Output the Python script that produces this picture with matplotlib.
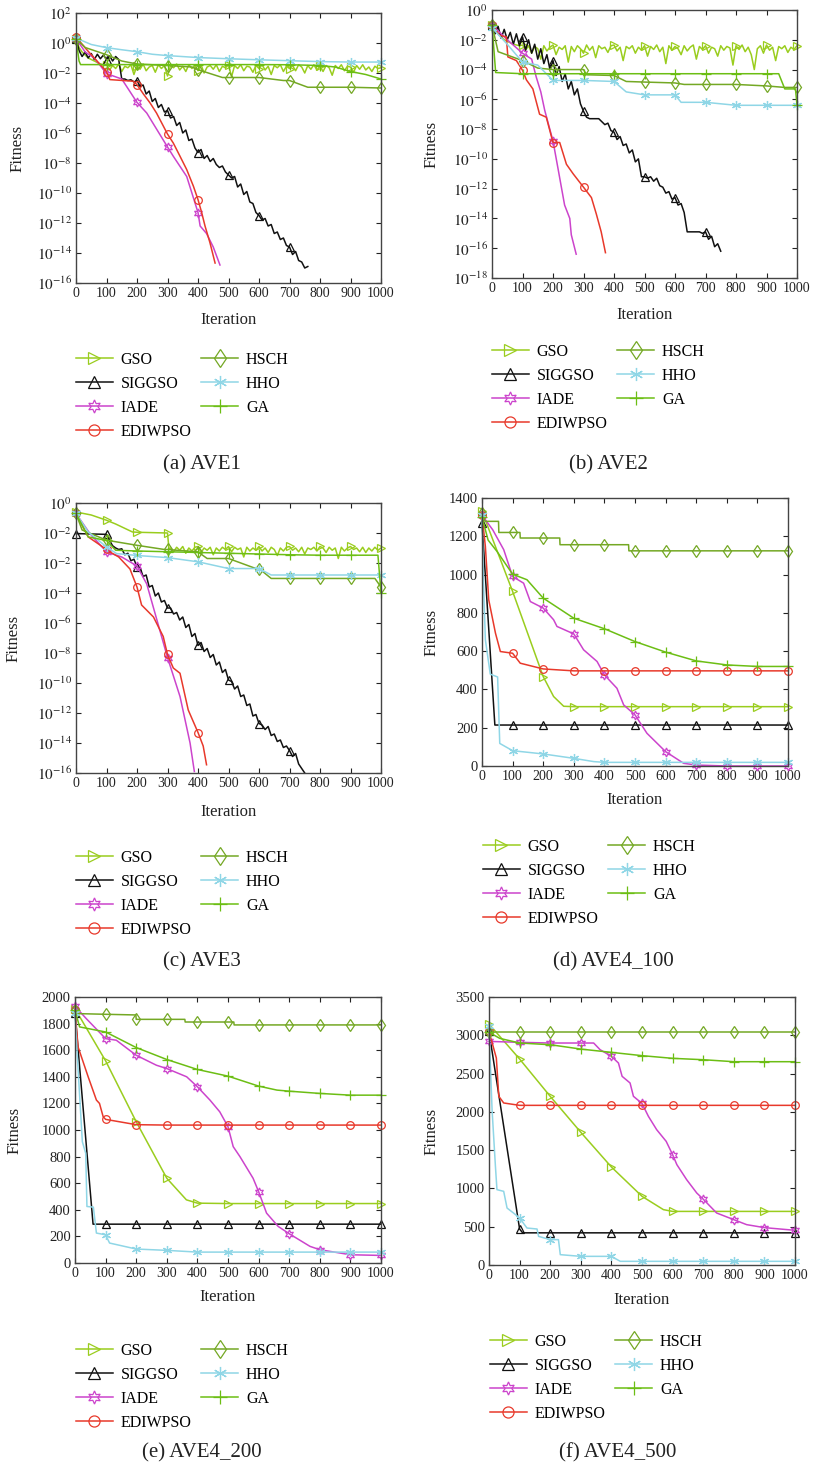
import numpy as np
import matplotlib
matplotlib.use("Agg")
import matplotlib.pyplot as plt
from matplotlib.ticker import FixedLocator, NullLocator

plt.rcParams['font.family'] = ['Liberation Serif', 'DejaVu Serif']
plt.rcParams['mathtext.fontset'] = 'stix'

NAMES = ['GSO', 'SIGGSO', 'IADE', 'EDIWPSO', 'HSCH', 'HHO', 'GA']
CAPTIONS = ['(a) AVE1', '(b) AVE2', '(c) AVE3', '(d) AVE4_100', '(e) AVE4_200', '(f) AVE4_500']
ITER_TICKS = [0, 100, 200, 300, 400, 500, 600, 700, 800, 900, 1000]

# ---------------- (a) AVE1, log10 of fitness ----------------
A_GSO_X = np.arange(0, 1001, 10)
A_GSO_Y = [0.3, -0.3, -0.6, -0.8, -1.0, -1.1, -1.2, -1.3, -1.4, -1.45,
           -1.45, -1.8, -1.5, -1.7, -1.4, -1.9, -1.55, -1.65, -1.45, -2.1,
           -1.5, -1.75, -1.4, -1.85, -1.6, -1.5, -1.95, -1.45, -1.7, -1.5,
           -2.2, -1.5, -1.65, -1.4, -1.8, -1.55, -1.9, -1.45, -1.7, -1.5,
           -1.85, -1.45, -2.0, -1.6, -1.5, -1.75, -1.45, -1.9, -1.55, -1.65,
           -1.45, -2.25, -1.5, -1.7, -1.45, -1.85, -1.55, -1.6, -1.95, -1.5,
           -1.7, -1.45, -1.8, -1.55, -2.1, -1.5, -1.65, -1.45, -1.9, -1.55,
           -1.7, -1.5, -1.85, -1.45, -1.6, -2.0, -1.5, -1.75, -1.45, -1.8,
           -1.55, -1.9, -1.5, -1.65, -2.15, -1.5, -1.7, -1.45, -1.85, -1.55,
           -1.6, -1.95, -1.5, -1.75, -1.45, -1.8, -1.6, -1.9, -1.55, -1.7,
           -1.65]
A_SIG_X = np.arange(0, 761, 10)
A_SIG_Y = [0.3, -0.5, -0.9, -0.6, -1.0, -0.7, -1.1, -0.75, -1.05, -0.8,
           -1.1, -0.85, -1.2, -0.9, -1.1, -2.4, -2.4, -2.5, -2.45, -2.6,
           -2.5, -2.9, -2.8, -3.4, -3.2, -3.9, -3.7, -4.3, -4.1, -4.6,
           -4.5, -5.0, -4.9, -5.5, -5.3, -6.0, -5.8, -6.5, -6.4, -7.0,
           -7.3, -7.1, -7.7, -7.5, -7.9, -7.7, -8.1, -8.3, -8.2, -8.6,
           -8.8, -9.0, -8.9, -9.6, -9.4, -10.1, -9.9, -10.6, -10.7, -11.3,
           -11.5, -11.8, -11.7, -12.2, -12.1, -12.7, -12.6, -13.1, -13.0, -13.5,
           -13.6, -14.1, -13.9, -14.5, -14.6, -15.0, -14.9]
A_IADE_X = [0, 30, 60, 100, 150, 200, 232, 300, 319, 363, 400, 407, 428, 450, 472]
A_IADE_Y = [0.3, -0.6, -1.0, -2.04, -2.4, -3.96, -4.67, -6.93, -7.55, -8.9, -11.3, -12.2, -12.7, -13.6, -14.8]
A_EDI_X = [0, 35, 100, 111, 188, 200, 221, 243, 264, 300, 319, 341, 363, 385, 400, 412, 423, 439, 456]
A_EDI_Y = [0.4, -0.44, -1.9, -2.44, -2.55, -2.78, -3.4, -4.0, -4.67, -6.07, -6.67, -7.55, -8.44, -9.55,
           -10.44, -11.3, -12.2, -13.3, -14.67]
A_HSCH_X = [0, 30, 100, 150, 200, 300, 380, 400, 480, 500, 600, 680, 700, 760, 800, 900, 1000]
A_HSCH_Y = [0.3, -0.3, -0.78, -1.2, -1.4, -1.5, -1.6, -1.78, -2.3, -2.3, -2.3, -2.5, -2.5, -2.95, -2.95, -2.95, -3.0]
A_HHO_X = [0, 50, 100, 150, 200, 250, 300, 400, 500, 600, 700, 800, 900, 1000]
A_HHO_Y = [0.33, -0.1, -0.31, -0.45, -0.58, -0.75, -0.84, -0.97, -1.05, -1.12, -1.18, -1.24, -1.27, -1.27]
A_GA_X = [0, 10, 15, 100, 200, 300, 400, 500, 600, 700, 800, 850, 900, 950, 1000]
A_GA_Y = [0.3, -1.2, -1.44, -1.44, -1.44, -1.44, -1.44, -1.44, -1.44, -1.45, -1.5, -1.6, -1.9, -2.1, -2.4]

# ---------------- (b) AVE2, log10 of fitness ----------------
B_GSO_X = np.arange(0, 1001, 10)
B_GSO_Y = [-1.0, -1.3, -1.6, -1.8, -2.0, -2.1, -2.2, -2.3, -2.35, -2.4,
           -2.35, -2.7, -2.4, -2.9, -2.45, -2.6, -3.3, -2.4, -2.75, -2.5,
           -2.35, -3.0, -2.5, -2.65, -2.4, -3.5, -2.45, -2.8, -2.4, -2.6,
           -2.9, -2.35, -2.7, -2.45, -3.2, -2.4, -2.6, -2.5, -2.85, -2.4,
           -2.35, -2.75, -2.5, -3.4, -2.45, -2.6, -2.4, -2.9, -2.5, -2.7,
           -2.4, -3.1, -2.45, -2.65, -2.35, -2.8, -2.5, -3.6, -2.4, -2.7,
           -2.45, -2.6, -3.0, -2.4, -2.75, -2.5, -2.35, -3.3, -2.45, -2.65,
           -2.4, -2.9, -2.5, -2.6, -3.1, -2.4, -2.7, -2.45, -2.55, -3.7,
           -2.4, -2.65, -2.35, -2.8, -2.5, -3.0, -4.0, -2.6, -2.4, -2.9,
           -2.35, -2.7, -2.5, -3.4, -2.45, -2.6, -2.4, -2.85, -2.5, -2.65,
           -2.4]
B_SIG_X = np.arange(0, 751, 10)
B_SIG_Y = [-1.0, -1.6, -1.1, -1.9, -1.3, -2.0, -1.5, -2.3, -1.6, -2.4,
           -1.8, -2.7, -2.0, -2.9, -2.3, -3.3, -2.6, -3.6, -3.0, -4.0,
           -3.4, -4.4, -3.8, -4.8, -4.3, -5.3, -4.8, -5.7, -5.3, -6.3,
           -6.8, -7.2, -7.3, -7.3, -7.3, -7.3, -7.5, -7.7, -7.6, -8.1,
           -8.2, -8.7, -8.5, -9.1, -9.0, -9.6, -9.4, -10.2, -10.0, -11.2,
           -11.2, -11.3, -11.2, -11.5, -11.3, -11.8, -11.9, -12.3, -12.2, -12.7,
           -12.6, -13.1, -13.0, -13.6, -14.9, -14.9, -14.9, -14.9, -14.9, -15.0,
           -14.9, -15.4, -15.2, -15.9, -15.7, -16.2]
B_IADE_X = [0, 50, 100, 130, 145, 160, 173, 200, 216, 238, 255, 260, 276]
B_IADE_Y = [-1.0, -2.0, -2.9, -3.3, -4.5, -5.5, -6.75, -8.8, -10.6, -13.1, -14.0, -15.1, -16.4]
B_EDI_X = [0, 25, 47, 52, 80, 100, 113, 134, 156, 178, 200, 222, 244, 266, 300, 326, 342, 358, 372]
B_EDI_Y = [-1.0, -1.7, -1.8, -3.15, -3.4, -4.05, -4.7, -5.3, -7.0, -7.2, -8.9, -8.9, -10.36, -11.0,
           -11.9, -12.6, -13.7, -14.9, -16.3]
B_HSCH_X = [0, 20, 100, 150, 200, 300, 310, 400, 440, 500, 600, 630, 700, 800, 900, 960, 1000]
B_HSCH_Y = [-1.0, -2.8, -3.4, -3.9, -4.0, -4.0, -4.35, -4.4, -4.8, -4.84, -4.9, -5.0, -5.0, -5.0, -5.1, -5.2, -5.2]
B_HHO_X = [0, 50, 100, 150, 200, 300, 400, 440, 500, 600, 620, 700, 800, 900, 1000]
B_HHO_Y = [-1.2, -2.3, -3.5, -3.7, -4.73, -4.73, -4.8, -5.5, -5.7, -5.7, -6.2, -6.2, -6.4, -6.4, -6.4]
B_GA_X = [0, 12, 100, 200, 300, 400, 500, 600, 700, 800, 900, 940, 960, 995, 1000]
B_GA_Y = [-1.0, -4.2, -4.28, -4.28, -4.28, -4.28, -4.28, -4.28, -4.28, -4.28, -4.28, -4.28, -5.3, -5.3, -6.4]

# ---------------- (c) AVE3, log10 of fitness ----------------
C_GSO_X = [0, 50, 100, 130, 185, 200, 300, 305] + list(range(310, 1001, 10))
C_GSO_Y = [1.4, 1.2, 0.85, 0.6, 0.07, 0.05, 0.0, -1.1,
           -1.0, -1.25, -0.95, -1.15, -0.9, -1.35, -1.0, -1.2, -0.95, -0.9,
           -1.3, -1.0, -1.15, -0.95, -1.45, -1.0, -1.2, -0.95, -1.1, -0.9,
           -1.25, -0.95, -1.1, -1.0, -1.6, -0.95, -1.2, -1.0, -1.15, -0.9,
           -1.2, -1.0, -1.3, -0.95, -1.1, -1.5, -1.0, -1.2, -0.95, -0.9,
           -1.15, -1.0, -1.25, -0.95, -1.4, -1.0, -1.1, -0.95, -1.2, -0.9,
           -1.0, -1.3, -0.95, -1.15, -1.0, -1.7, -0.95, -1.2, -1.0, -0.9,
           -1.1, -1.0, -1.25, -0.95, -1.3, -1.0, -1.2, -0.95, -1.15, -1.0]
C_SIG_X = [0, 100] + list(range(110, 751, 10))
C_SIG_Y = [-0.04, -0.09,
           -0.5, -0.85, -1.0, -1.1, -1.05, -1.45, -1.35, -1.85, -1.75,
           -2.25, -2.3, -2.9, -2.8, -3.6, -3.5, -4.2, -4.0, -4.6, -4.5,
           -5.0, -5.0, -5.4, -5.3, -5.8, -5.6, -6.3, -6.1, -6.9, -6.7,
           -7.5, -7.3, -7.9, -7.7, -8.3, -8.1, -8.8, -8.6, -9.3, -9.1,
           -9.8, -9.9, -10.4, -10.2, -10.9, -10.8, -11.5, -11.4, -12.2, -12.1,
           -12.7, -12.8, -13.1, -12.9, -13.5, -13.4, -13.9, -13.8, -14.3, -14.2,
           -14.5, -14.9, -14.7, -15.4, -15.7, -16.0]
C_IADE_X = [0, 46, 100, 150, 200, 232, 300, 341, 374, 388]
C_IADE_Y = [1.3, -0.05, -1.26, -1.6, -2.2, -3.4, -8.3, -10.9, -14.0, -15.9]
C_EDI_X = [0, 40, 100, 111, 140, 177, 200, 215, 254, 286, 300, 319, 341, 368, 400, 417, 428]
C_EDI_Y = [1.3, -0.26, -1.1, -1.26, -1.6, -2.4, -3.6, -4.8, -5.6, -6.9, -8.1, -9.0, -9.35, -11.8, -13.3, -14.2, -15.45]
C_HSCH_X = [0, 20, 100, 200, 290, 300, 400, 430, 500, 590, 600, 640, 700, 800, 900, 980, 1000]
C_HSCH_Y = [1.3, 0.2, -0.48, -0.82, -1.1, -1.1, -1.26, -1.7, -1.7, -2.37, -2.37, -3.03, -3.03, -3.03, -3.03, -3.03, -3.6]
C_HHO_X = [0, 40, 100, 133, 200, 300, 400, 500, 600, 640, 700, 800, 900, 1000]
C_HHO_Y = [1.3, 0.07, -0.93, -1.37, -1.5, -1.64, -1.92, -2.37, -2.37, -2.8, -2.8, -2.8, -2.8, -2.8]
C_GA_X = [0, 40, 100, 130, 200, 300, 400, 500, 600, 700, 800, 900, 960, 990, 1000]
C_GA_Y = [1.3, -0.26, -0.5, -1.15, -1.2, -1.25, -1.3, -1.35, -1.4, -1.45, -1.48, -1.48, -1.48, -1.48, -4.0]

# ---------------- (d) AVE4_100 ----------------
D_GSO_X = [0, 100, 200, 234, 267, 300, 400, 500, 600, 700, 800, 900, 1000]
D_GSO_Y = [1330, 912, 467, 363, 312, 310, 310, 310, 310, 310, 310, 310, 310]
D_SIG_X = [0, 42, 100, 200, 300, 400, 500, 600, 700, 800, 900, 1000]
D_SIG_Y = [1270, 214, 214, 214, 214, 214, 214, 214, 214, 214, 214, 214]
D_IADE_X = [0, 35, 71, 100, 136, 158, 200, 234, 245, 300, 332, 376, 400, 441, 463, 500, 539, 600, 659, 700,
            800, 900, 1000]
D_IADE_Y = [1310, 1234, 1130, 990, 955, 859, 825, 764, 729, 690, 607, 546, 476, 406, 319, 267, 171, 75, 14, 5,
            0, 0, 0]
D_EDI_X = [0, 11, 22, 44, 60, 100, 125, 200, 300, 400, 500, 600, 700, 800, 900, 1000]
D_EDI_Y = [1310, 1147, 868, 694, 598, 589, 537, 507, 497, 497, 497, 497, 497, 497, 497, 497]
D_HSCH_X = [0, 10, 54, 55, 100, 124, 125, 200, 254, 255, 300, 400, 479, 480, 500, 600, 700, 800, 900, 1000]
D_HSCH_Y = [1320, 1278, 1278, 1220, 1220, 1220, 1191, 1191, 1191, 1156, 1156, 1156, 1156, 1124, 1124, 1124,
            1124, 1124, 1124, 1124]
D_HHO_X = [0, 5, 11, 27, 51, 58, 100, 200, 300, 365, 400, 500, 600, 700, 800, 900, 1000]
D_HHO_Y = [1310, 950, 660, 480, 465, 118, 80, 63, 40, 23, 19, 19, 19, 19, 19, 19, 19]
D_GA_X = [0, 20, 49, 100, 147, 200, 300, 400, 500, 600, 700, 800, 900, 1000]
D_GA_Y = [1300, 1180, 1121, 1002, 973, 877, 772, 717, 650, 595, 549, 528, 520, 520]

# ---------------- (e) AVE4_200 ----------------
E_GSO_X = [0, 100, 200, 300, 364, 400, 500, 600, 700, 800, 900, 1000]
E_GSO_Y = [1912, 1520, 1062, 637, 475, 450, 447, 447, 447, 447, 447, 447]
E_SIG_X = [0, 59, 100, 200, 300, 400, 500, 600, 700, 800, 900, 1000]
E_SIG_Y = [1880, 292, 292, 292, 292, 292, 292, 292, 292, 292, 292, 292]
E_IADE_X = [0, 37, 100, 135, 200, 266, 300, 365, 400, 441, 473, 500, 517, 539, 582, 600, 626, 664, 700, 768,
            800, 900, 1000]
E_IADE_Y = [1930, 1837, 1687, 1675, 1562, 1487, 1462, 1400, 1325, 1225, 1137, 1025, 875, 800, 637, 537, 375,
            275, 220, 125, 100, 62, 57]
E_EDI_X = [0, 10, 43, 70, 80, 92, 100, 200, 300, 400, 500, 600, 700, 800, 900, 1000]
E_EDI_Y = [1900, 1625, 1400, 1225, 1200, 1100, 1080, 1040, 1037, 1037, 1037, 1037, 1037, 1037, 1037, 1037]
E_HSCH_X = [0, 10, 100, 199, 200, 300, 359, 360, 400, 500, 519, 520, 600, 700, 800, 900, 1000]
E_HSCH_Y = [1900, 1875, 1870, 1865, 1832, 1832, 1832, 1812, 1812, 1812, 1812, 1790, 1790, 1790, 1790, 1790, 1790]
E_HHO_X = [0, 7, 24, 35, 39, 60, 70, 100, 113, 200, 300, 400, 500, 600, 700, 800, 900, 1000]
E_HHO_Y = [1880, 1575, 912, 825, 425, 420, 225, 212, 150, 105, 95, 82, 82, 82, 82, 82, 82, 82]
E_GA_X = [0, 15, 100, 200, 300, 400, 500, 600, 660, 700, 800, 900, 1000]
E_GA_Y = [1900, 1775, 1737, 1620, 1530, 1455, 1405, 1330, 1300, 1292, 1275, 1262, 1262]

# ---------------- (f) AVE4_500 ----------------
F_GSO_X = [0, 100, 200, 300, 400, 500, 570, 600, 700, 800, 900, 1000]
F_GSO_Y = [3147, 2690, 2203, 1733, 1280, 897, 723, 700, 700, 700, 700, 700]
F_SIG_X = [0, 100, 110, 200, 300, 400, 500, 600, 700, 800, 900, 1000]
F_SIG_Y = [3050, 470, 420, 420, 420, 420, 420, 420, 420, 420, 420, 420]
F_IADE_X = [0, 100, 200, 300, 342, 363, 400, 423, 435, 461, 472, 500, 521, 548, 579, 600, 614, 646, 679, 700,
            744, 800, 842, 900, 1000]
F_IADE_Y = [2920, 2908, 2899, 2899, 2899, 2812, 2725, 2638, 2464, 2377, 2203, 2110, 1941, 1767, 1615, 1441,
            1310, 1114, 940, 860, 679, 592, 527, 488, 453]
F_EDI_X = [0, 24, 32, 48, 100, 200, 300, 400, 500, 600, 700, 800, 900, 1000]
F_EDI_Y = [3050, 2703, 2203, 2116, 2085, 2085, 2085, 2085, 2085, 2085, 2085, 2085, 2085, 2085]
F_HSCH_X = [0, 100, 200, 300, 400, 500, 600, 700, 800, 900, 1000]
F_HSCH_Y = [3047, 3047, 3047, 3047, 3047, 3047, 3047, 3047, 3047, 3047, 3047]
F_HHO_X = [0, 10, 21, 26, 48, 59, 80, 100, 124, 157, 162, 200, 227, 233, 300, 400, 429, 500, 600, 700, 800,
           900, 1000]
F_HHO_Y = [3117, 2028, 1289, 984, 962, 744, 679, 614, 483, 470, 374, 331, 331, 135, 113, 113, 48, 48, 48, 48,
           48, 48, 48]
F_GA_X = [0, 35, 100, 200, 300, 400, 500, 600, 700, 800, 900, 1000]
F_GA_Y = [3040, 2960, 2899, 2877, 2820, 2777, 2734, 2699, 2681, 2655, 2655, 2655]

PANELS = [
    [(A_GSO_X, A_GSO_Y), (A_SIG_X, A_SIG_Y), (A_IADE_X, A_IADE_Y), (A_EDI_X, A_EDI_Y),
     (A_HSCH_X, A_HSCH_Y), (A_HHO_X, A_HHO_Y), (A_GA_X, A_GA_Y)],
    [(B_GSO_X, B_GSO_Y), (B_SIG_X, B_SIG_Y), (B_IADE_X, B_IADE_Y), (B_EDI_X, B_EDI_Y),
     (B_HSCH_X, B_HSCH_Y), (B_HHO_X, B_HHO_Y), (B_GA_X, B_GA_Y)],
    [(C_GSO_X, C_GSO_Y), (C_SIG_X, C_SIG_Y), (C_IADE_X, C_IADE_Y), (C_EDI_X, C_EDI_Y),
     (C_HSCH_X, C_HSCH_Y), (C_HHO_X, C_HHO_Y), (C_GA_X, C_GA_Y)],
    [(D_GSO_X, D_GSO_Y), (D_SIG_X, D_SIG_Y), (D_IADE_X, D_IADE_Y), (D_EDI_X, D_EDI_Y),
     (D_HSCH_X, D_HSCH_Y), (D_HHO_X, D_HHO_Y), (D_GA_X, D_GA_Y)],
    [(E_GSO_X, E_GSO_Y), (E_SIG_X, E_SIG_Y), (E_IADE_X, E_IADE_Y), (E_EDI_X, E_EDI_Y),
     (E_HSCH_X, E_HSCH_Y), (E_HHO_X, E_HHO_Y), (E_GA_X, E_GA_Y)],
    [(F_GSO_X, F_GSO_Y), (F_SIG_X, F_SIG_Y), (F_IADE_X, F_IADE_Y), (F_EDI_X, F_EDI_Y),
     (F_HSCH_X, F_HSCH_Y), (F_HHO_X, F_HHO_Y), (F_GA_X, F_GA_Y)],
]

# y axis ticks: log panels give exponents, linear give values
LOG_TICKS_A = list(range(-16, 3, 2))
LOG_LABELS_A = [r'$10^{%d}$' % k for k in LOG_TICKS_A]
LOG_TICKS_B = list(range(-18, 1, 2))
LOG_LABELS_B = [r'$10^{%d}$' % k for k in LOG_TICKS_B]
LOG_LABELS_C = [r'$10^{-16}$', r'$10^{-14}$', r'$10^{-12}$', r'$10^{-10}$', r'$10^{-8}$', r'$10^{-6}$',
                r'$10^{-4}$', r'$10^{-2}$', r'$10^{-2}$', r'$10^{0}$']
LIN_TICKS_D = [0, 200, 400, 600, 800, 1000, 1200, 1400]
LIN_TICKS_E = [0, 200, 400, 600, 800, 1000, 1200, 1400, 1600, 1800, 2000]
LIN_TICKS_F = [0, 500, 1000, 1500, 2000, 2500, 3000, 3500]

# ---------------- styling / layout ----------------
STYLE = {
    'GSO': dict(color='#9ACD1E', marker='>', ms=5.5),
    'SIGGSO': dict(color='#111111', marker='^', ms=5.5),
    'IADE': dict(color='#CC44CC', marker=(6, 1, 0), ms=6.5),
    'EDIWPSO': dict(color='#E8392B', marker='o', ms=5.5),
    'HSCH': dict(color='#74A824', marker='d', ms=6.5),
    'HHO': dict(color='#8FD6E6', marker=(6, 2, 0), ms=6.5),
    'GA': dict(color='#6CBE14', marker='+', ms=7),
}

W, H = 814, 1469
fig = plt.figure(figsize=(W / 100, H / 100), dpi=100)


def rect(x0, y0, x1, y1):
    return [x0 / W, 1 - y1 / H, (x1 - x0) / W, (y1 - y0) / H]


def mark_idx(x):
    idx, seen = [], set()
    for i, v in enumerate(x):
        if v % 100 == 0 and v not in seen:
            idx.append(i)
            seen.add(v)
    return idx


# axes box, ylabel x, xlabel y, legend top-left, caption centre, log flag, ylim, ticks, labels
LAYOUT = [
    dict(box=(76, 13, 381, 283), ylx=18, xly=320, leg=(76, 352), cap=(202, 465), log=True,
         ylim=(-16, 2), ticks=LOG_TICKS_A, labels=LOG_LABELS_A),
    dict(box=(492, 10, 797, 278), ylx=432, xly=315, leg=(492, 344), cap=(608, 465), log=True,
         ylim=(-18, 0), ticks=LOG_TICKS_B, labels=LOG_LABELS_B),
    dict(box=(76, 503, 381, 773), ylx=14, xly=812, leg=(76, 850), cap=(202, 962), log=True,
         ylim=(-16, 2), ticks=LOG_TICKS_A, labels=LOG_LABELS_C),
    dict(box=(482, 498, 788, 766), ylx=432, xly=800, leg=(483, 839), cap=(613, 962), log=False,
         ylim=(0, 1400), ticks=LIN_TICKS_D, labels=None),
    dict(box=(75, 997, 381, 1263), ylx=15, xly=1297, leg=(76, 1343), cap=(202, 1453), log=False,
         ylim=(0, 2000), ticks=LIN_TICKS_E, labels=None),
    dict(box=(489, 997, 795, 1265), ylx=432, xly=1300, leg=(490, 1334), cap=(618, 1453), log=False,
         ylim=(0, 3500), ticks=LIN_TICKS_F, labels=None),
]

for panel, lay, cap in zip(PANELS, LAYOUT, CAPTIONS):
    x0, y0, x1, y1 = lay['box']
    ax = fig.add_axes(rect(x0, y0, x1, y1))
    for name, (xs, ys) in zip(NAMES, panel):
        st = STYLE[name]
        yv = np.asarray(ys, dtype=float)
        if lay['log']:
            yv = 10.0 ** yv
        ax.plot(xs, yv, color=st['color'], lw=1.1, marker=st['marker'], ms=st['ms'],
                mfc='none', mew=0.9, markevery=mark_idx(list(xs)), label=name, clip_on=False)
    ax.set_xlim(0, 1000)
    ax.set_xticks(ITER_TICKS)
    ax.set_xticklabels([str(t) for t in ITER_TICKS])
    if lay['log']:
        ax.set_yscale('log')
        ax.set_ylim(10.0 ** lay['ylim'][0], 10.0 ** lay['ylim'][1])
        ax.yaxis.set_major_locator(FixedLocator([10.0 ** k for k in lay['ticks']]))
        ax.yaxis.set_minor_locator(NullLocator())
        ax.set_yticklabels(lay['labels'])
        ax.tick_params(axis='y', labelsize=11)
    else:
        ax.set_ylim(*lay['ylim'])
        ax.set_yticks(lay['ticks'])
        ax.tick_params(axis='y', labelsize=10.5)
    ax.tick_params(axis='x', labelsize=10)
    ax.tick_params(direction='in', top=True, right=True, length=3.5, width=0.8,
                   colors='#222222', pad=3)
    for sp in ax.spines.values():
        sp.set_color('#444444')
        sp.set_linewidth(1.0)

    fig.text((x0 + x1) / 2 / W, 1 - lay['xly'] / H, 'Iteration', ha='center', va='center',
             fontsize=12, color='#222222')
    fig.text(lay['ylx'] / W, 1 - (y0 + y1) / 2 / H, 'Fitness', ha='center', va='center',
             rotation=90, fontsize=12, color='#222222')

    h, l = ax.get_legend_handles_labels()
    lx, ly = lay['leg']
    fig.legend(h, l, ncol=2, loc='upper left', bbox_to_anchor=(lx / W, 1 - ly / H),
               frameon=False, fontsize=11.5, handlelength=2.3, handletextpad=0.5,
               columnspacing=0.6, labelspacing=0.5, borderpad=0, borderaxespad=0,
               markerscale=1.45)
    fig.text(lay['cap'][0] / W, 1 - lay['cap'][1] / H, cap, ha='center', va='center',
             fontsize=15, color='#222222')

fig.savefig('out.png', dpi=100, facecolor='white')
